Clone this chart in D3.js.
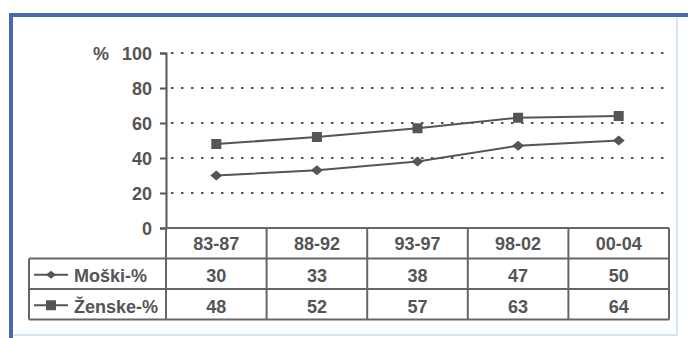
<!DOCTYPE html>
<html>
<head>
<meta charset="utf-8">
<script src="https://cdn.jsdelivr.net/npm/d3@7"></script>
<style>
  body { margin: 0; background: #fff; }
  text { font-family: "Liberation Sans", Arial, sans-serif; font-weight: bold; fill: #555; }
</style>
</head>
<body>
<div class="chart"></div>
<script>
var categories = ["83-87", "88-92", "93-97", "98-02", "00-04"];
var moski = [30, 33, 38, 47, 50];
var zenske = [48, 52, 57, 63, 64];
var seriesNames = ["Moški-%", "Ženske-%"];
var yTicks = [0, 20, 40, 60, 80, 100];

var width = 688, height = 338,
    plot = {left: 166, right: 669, top: 53, bottom: 228},
    rowH = 30.5,
    legendLeft = 29,
    fs = "18px",
    ink = "#555";

var svg = d3.select("div.chart").append("svg")
    .attr("width", width)
    .attr("height", height);

// frame
svg.append("rect")
    .attr("x", 11).attr("y", 14)
    .attr("width", 666).attr("height", 321)
    .attr("fill", "#fff")
    .attr("stroke", "#d6e6f2")
    .attr("stroke-width", 2);
svg.append("line")
    .attr("x1", 9).attr("x2", 688).attr("y1", 15).attr("y2", 15)
    .attr("stroke", "#4a68b0").attr("stroke-width", 4);
svg.append("line")
    .attr("x1", 11).attr("x2", 11).attr("y1", 13).attr("y2", 338)
    .attr("stroke", "#4a68b0").attr("stroke-width", 4);

var x = d3.scaleBand().domain(categories).range([plot.left, plot.right]);
var y = d3.scaleLinear().domain([0, 100]).range([plot.bottom, plot.top]);

function cx(i) { return x(categories[i]) + x.bandwidth() / 2; }

// grid
svg.append("g").selectAll("line")
    .data(yTicks.filter(function(d) { return d > 0; }))
    .join("line")
    .attr("x1", plot.left + 5).attr("x2", 664)
    .attr("y1", function(d) { return y(d); })
    .attr("y2", function(d) { return y(d); })
    .attr("stroke", ink)
    .attr("stroke-width", 2)
    .attr("stroke-dasharray", "2.5,7.5");

// y axis
var yAxis = svg.append("g")
    .attr("transform", "translate(" + plot.left + ",0)")
    .call(d3.axisLeft(y).tickValues(yTicks).tickSize(6).tickPadding(8));
yAxis.attr("font-size", null).attr("font-family", null);
yAxis.select(".domain").attr("stroke", ink).attr("stroke-width", 2);
yAxis.selectAll(".tick line").attr("stroke", ink).attr("stroke-width", 2);
yAxis.selectAll(".tick text")
    .attr("fill", ink)
    .attr("dy", "0.36em")
    .style("font-size", fs);

svg.append("text")
    .attr("x", 101).attr("y", y(100) + 7)
    .attr("text-anchor", "middle")
    .style("font-size", fs)
    .text("%");

// table
var table = svg.append("g").attr("class", "table");
var tableBottom = plot.bottom + 3 * rowH;

table.append("line")
    .attr("x1", plot.left).attr("x2", plot.right)
    .attr("y1", plot.bottom).attr("y2", plot.bottom);
[1, 2, 3].forEach(function(i) {
    table.append("line")
        .attr("x1", legendLeft).attr("x2", plot.right)
        .attr("y1", plot.bottom + i * rowH).attr("y2", plot.bottom + i * rowH);
});
categories.forEach(function(c) {
    table.append("line")
        .attr("x1", x(c)).attr("x2", x(c))
        .attr("y1", plot.bottom).attr("y2", tableBottom);
});
table.append("line")
    .attr("x1", plot.right).attr("x2", plot.right)
    .attr("y1", plot.bottom).attr("y2", tableBottom);
table.append("line")
    .attr("x1", legendLeft).attr("x2", legendLeft)
    .attr("y1", plot.bottom + rowH).attr("y2", tableBottom);
table.selectAll("line").attr("stroke", "#666").attr("stroke-width", 2);

table.selectAll("text.cat")
    .data(categories)
    .join("text")
    .attr("class", "cat")
    .attr("x", function(d, i) { return cx(i); })
    .attr("y", plot.bottom + rowH / 2 + 6.5)
    .attr("text-anchor", "middle")
    .style("font-size", fs)
    .text(function(d) { return d; });

var diamond = function(w, h) {
    return "M0," + (-h / 2) + "L" + (w / 2) + ",0L0," + (h / 2) + "L" + (-w / 2) + ",0Z";
};

var rows = [moski, zenske];
rows.forEach(function(vals, r) {
    var cy = plot.bottom + (r + 1) * rowH + rowH / 2;
    table.selectAll("text.v" + r)
        .data(vals)
        .join("text")
        .attr("class", "v" + r)
        .attr("x", function(d, i) { return cx(i); })
        .attr("y", cy + 8.5)
        .attr("text-anchor", "middle")
        .style("font-size", fs)
        .text(function(d) { return d; });

    table.append("line")
        .attr("x1", 34).attr("x2", 68)
        .attr("y1", cy + 1).attr("y2", cy + 1)
        .attr("stroke", ink).attr("stroke-width", 2);
    if (r === 0) {
        table.append("path")
            .attr("d", diamond(10, 8))
            .attr("transform", "translate(51," + (cy + 1) + ")")
            .attr("fill", ink);
    } else {
        table.append("rect")
            .attr("x", 46).attr("y", cy - 4)
            .attr("width", 10).attr("height", 10)
            .attr("fill", ink);
    }
    table.append("text")
        .attr("x", 74).attr("y", cy + 8.5)
        .style("font-size", fs)
        .text(seriesNames[r]);
});

// lines
var line = d3.line()
    .x(function(d, i) { return cx(i); })
    .y(function(d) { return y(d); });

svg.append("path").datum(moski)
    .attr("d", line).attr("fill", "none")
    .attr("stroke", ink).attr("stroke-width", 2);
svg.append("path").datum(zenske)
    .attr("d", line).attr("fill", "none")
    .attr("stroke", ink).attr("stroke-width", 2);

svg.append("g").selectAll("path")
    .data(moski)
    .join("path")
    .attr("d", diamond(12, 10))
    .attr("transform", function(d, i) {
        return "translate(" + cx(i) + "," + y(d) + ")";
    })
    .attr("fill", ink);

svg.append("g").selectAll("rect")
    .data(zenske)
    .join("rect")
    .attr("x", function(d, i) { return cx(i) - 5; })
    .attr("y", function(d) { return y(d) - 5; })
    .attr("width", 10).attr("height", 10)
    .attr("fill", ink);
</script>
</body>
</html>
